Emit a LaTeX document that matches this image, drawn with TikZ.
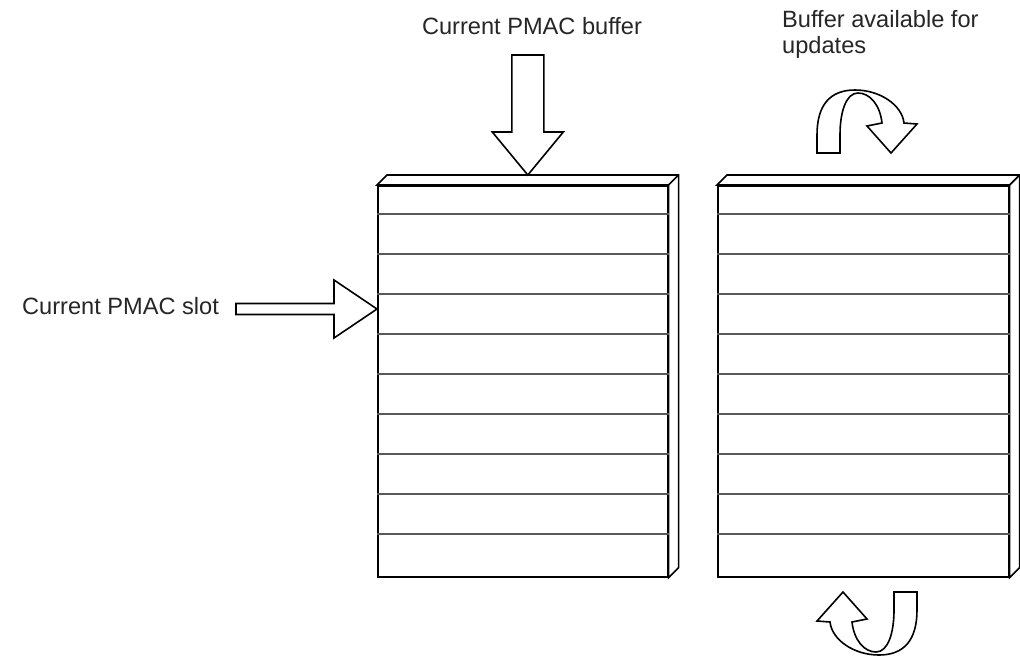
\documentclass[tikz,border=0pt]{standalone}
\usepackage{fontspec}
\setmainfont{Liberation Sans}
\begin{document}
\begin{tikzpicture}[x=1pt,y=-1pt,line join=miter,
  outl/.style={draw=black,line width=1.6pt,fill=white},
  rowline/.style={draw=black!65,line width=1.4pt},
  lbl/.style={font=\fontsize{23.6}{26}\selectfont,inner sep=0pt,text=black!85},
  bufbox/.style={outl,minimum height=391pt,inner sep=0pt,anchor=north west}]
\useasboundingbox (0,0) rectangle (1020,657);
\newcommand\uturnpath{(817,153) -- (817,135) .. controls (817,105) and (830,90) .. (855,90) .. controls (880,90) and (902,105) .. (904,123) -- (917,124) -- (891,153) -- (867,126) -- (882,123) .. controls (880,105) and (870,93) .. (858,93) .. controls (846,93) and (840,112) .. (840,135) -- (840,153) -- cycle}

% buffers
\foreach \b/\x/\w in {buf1/377/290,buf2/717/291}{
  \node[bufbox,minimum width=\w pt] (\b) at (\x,185) {};
  \draw[outl] (\b.north west) -- ++(10,-10) -| ([shift={(10,-10)}]\b.south east) -- (\b.south east) -- (\b.north east) -- cycle;
  \draw[outl,fill=none] (\b.north east) -- ++(10,-10);
  \foreach \d in {29,69,109,149,189,229,269,309,349}
    \draw[rowline] ([yshift=-\d pt]\b.north west) -- ([yshift=-\d pt]\b.north east);
}

% current buffer arrow
\coordinate (tipA) at ([shift={(5,-10)}]buf1.north);
\draw[outl] (tipA) -- ++(-35.5,-43) -- ++(19.5,0) -- ++(0,-77) -- ++(32,0) -- ++(0,77) -- ++(19.5,0) -- cycle;
\node[lbl,anchor=base] (lbuf) at (532,34) {Current PMAC buffer};

% current slot arrow
\coordinate (tipB) at ([yshift=-124pt]buf1.north west);
\draw[outl] (tipB) -- ++(-43,-29) -- ++(0,23.5) -- ++(-98,0) -- ++(0,11) -- ++(98,0) -- ++(0,23.5) -- cycle;
\node[lbl,anchor=base west] (lslot) at (22,314) {Current PMAC slot};

% available buffer
\node[lbl,anchor=base west,align=left] (lavail) at (782,53) {Buffer available for\\updates};
\draw[outl] \uturnpath;
\begin{scope}[rotate around={180:(867,372.5)}]
\draw[outl] \uturnpath;
\end{scope}
\end{tikzpicture}
\end{document}
